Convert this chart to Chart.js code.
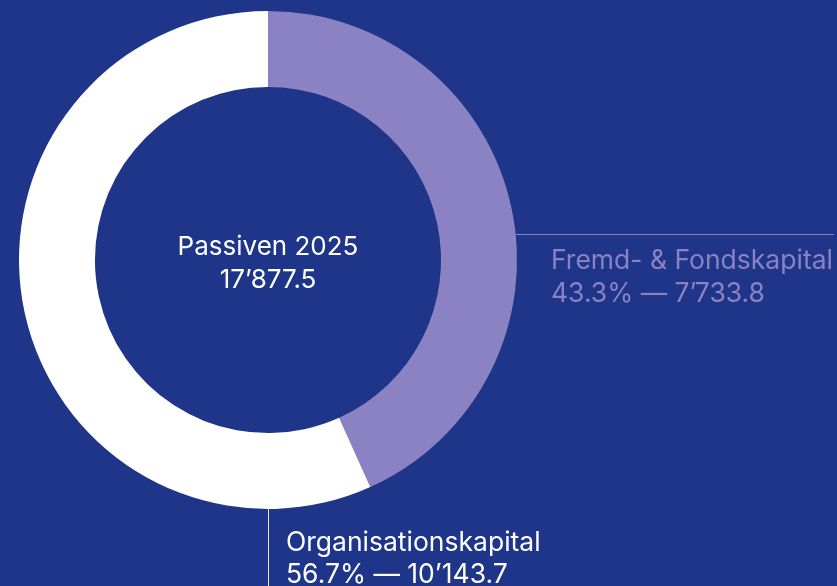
<!DOCTYPE html>
<html>
<head>
<meta charset="utf-8">
<script src="https://cdn.jsdelivr.net/npm/chart.js@4"></script>
<style>
  html, body { margin: 0; padding: 0; background: #1e3589; }
  .chart { position: relative; width: 837px; height: 586px; }
</style>
</head>
<body>
<div class="chart"><canvas id="c"></canvas></div>
<script>
const labels = ['Fremd- & Fondskapital', 'Organisationskapital']
const values = [7733.8, 10143.7]
const percents = ['43.3%', '56.7%']
const valueText = ['7’733.8', '10’143.7']
const centerTitle = 'Passiven 2025'
const centerValue = '17’877.5'

const BG = '#1e3589'
const PURPLE = '#8a82c3'
const WHITE = '#ffffff'
const FONT = 'Inter, "Liberation Sans", Arial, sans-serif'

const labelPlugin = {
  id: 'labels',
  afterDraw(chart){
    const ctx = chart.ctx
    const arcs = chart.getDatasetMeta(0).data
    const a = arcs[0]
    const cx = a.x, cy = a.y, r = a.outerRadius
    ctx.save()

    // center text
    ctx.fillStyle = WHITE
    ctx.textAlign = 'center'
    ctx.textBaseline = 'alphabetic'
    ctx.font = '26px ' + FONT
    ctx.fillText(centerTitle, cx, cy - 5)
    ctx.fillText(centerValue, cx, cy + 28)

    // Fremd label, horizontal leader
    const ly = cy - 26
    const lx = cx + Math.sqrt(r * r - 26 * 26)
    ctx.strokeStyle = PURPLE
    ctx.lineWidth = 1
    ctx.beginPath()
    ctx.moveTo(lx, ly + 0.5)
    ctx.lineTo(834, ly + 0.5)
    ctx.stroke()
    ctx.fillStyle = PURPLE
    ctx.textAlign = 'left'
    ctx.font = '26.5px ' + FONT
    ctx.fillText(labels[0], 551, ly + 35)
    ctx.fillText(percents[0] + ' — ' + valueText[0], 551, ly + 68)

    // Organisation label, vertical leader
    ctx.strokeStyle = '#e6e8f2'
    ctx.beginPath()
    ctx.moveTo(cx + 0.5, cy + r)
    ctx.lineTo(cx + 0.5, chart.height)
    ctx.stroke()
    ctx.fillStyle = WHITE
    ctx.fillText(labels[1], 286, cy + r + 42)
    ctx.fillText(percents[1] + ' — ' + valueText[1], 286, cy + r + 74)
    ctx.restore()
  }
}

const config = {
  type: 'doughnut',
  data: {
    labels: labels,
    datasets: [{
      data: values,
      backgroundColor: [PURPLE, WHITE],
      borderWidth: 0,
      hoverOffset: 0
    }]
  },
  options: {
    responsive: true,
    maintainAspectRatio: false,
    animation: false,
    cutout: '69.5%',
    layout: { padding: { left: 19, top: 11, right: 320, bottom: 77 } },
    plugins: { legend: { display: false }, tooltip: { enabled: false } }
  },
  plugins: [labelPlugin]
}

const canvas = document.getElementById('c')
new Chart(canvas.getContext('2d'), config)
</script>
</body>
</html>
